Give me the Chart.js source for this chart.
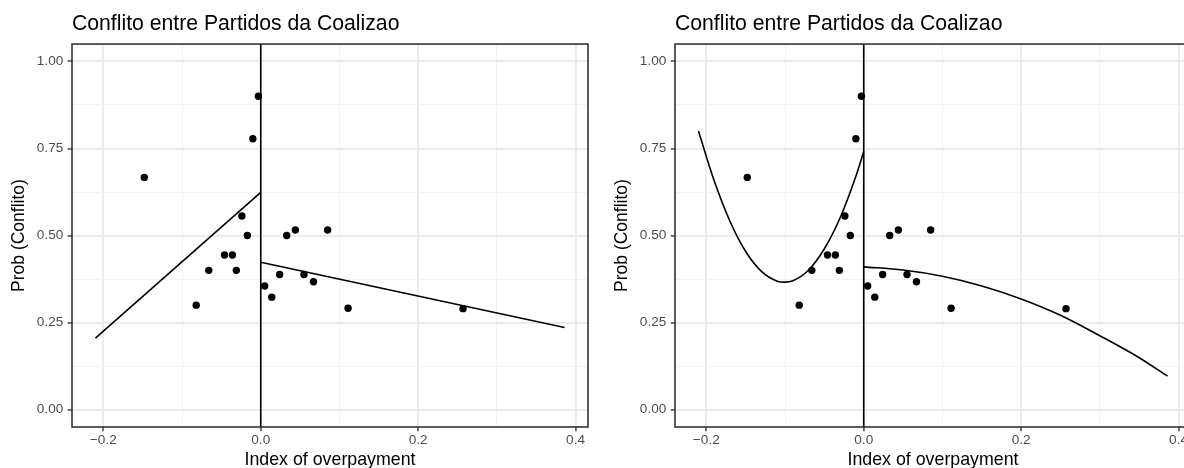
<!DOCTYPE html>
<html>
<head>
<meta charset="utf-8">
<script src="https://cdn.jsdelivr.net/npm/chart.js@4.4.1/dist/chart.umd.min.js"></script>
<style>
  html, body { margin: 0; padding: 0; background: #ffffff; overflow: hidden; width: 1184px; height: 468px; }
  .panel { position: absolute; top: 0; width: 600px; height: 468px; }
</style>
</head>
<body>
<div class="panel" style="left:0px"><canvas id="linearPanel" width="600" height="468"></canvas></div>
<div class="panel" style="left:603px"><canvas id="quadraticPanel" width="600" height="468"></canvas></div>
<script>
// Observed coalition-party conflict rates by index of overpayment
const overpayment = [-0.003, -0.010, -0.148, -0.024, -0.017, -0.046, -0.036, -0.066, -0.031, -0.082,
                      0.033,  0.044,  0.085,  0.024,  0.055,  0.067,  0.005,  0.014,  0.111,  0.257];
const probConflito = [0.900, 0.778, 0.667, 0.556, 0.500, 0.444, 0.444, 0.400, 0.400, 0.300,
                      0.500, 0.516, 0.516, 0.388, 0.388, 0.367, 0.355, 0.323, 0.291, 0.290];

// Discontinuity at zero overpayment
const cutoff = 0;

// Linear fits on each side of the cutoff
const linLeftX = [-0.210, 0.000];
const linLeftY = [0.205, 0.624];
const linRightX = [0.000, 0.386];
const linRightY = [0.423, 0.236];

// Quadratic fits on each side of the cutoff
const quadLeftX = [-0.210, -0.190, -0.170, -0.150, -0.130, -0.110, -0.100, -0.090, -0.070, -0.050, -0.030, -0.010, 0.000];
const quadLeftY = [0.800, 0.657, 0.541, 0.454, 0.397, 0.369, 0.366, 0.370, 0.401, 0.462, 0.551, 0.670, 0.741];
const quadRightX = [0.000, 0.050, 0.100, 0.150, 0.200, 0.250, 0.300, 0.350, 0.386];
const quadRightY = [0.410, 0.401, 0.383, 0.355, 0.318, 0.271, 0.212, 0.149, 0.096];

// Axis limits and breaks
const xLimits = [-0.2398, 0.4158];
const yLimits = [-0.05, 1.05];
const xMajorTicks = [-0.2, 0.0, 0.2, 0.4];
const xMinorTicks = [-0.1, 0.1, 0.3];
const yMajorTicks = [0.00, 0.25, 0.50, 0.75, 1.00];
const yMinorTicks = [0.125, 0.375, 0.625, 0.875];

const plotTitle = 'Conflito entre Partidos da Coalizao';
const xTitle = 'Index of overpayment';
const yTitle = 'Prob (Conflito)';

const FONT = '"Liberation Sans", Arial, Helvetica, sans-serif';
Chart.defaults.font.family = FONT;

const isIn = (list, v) => list.some(t => Math.abs(t - v) < 1e-9);
const pairs = (xs, ys) => xs.map((x, i) => ({ x: x, y: ys[i] }));

const fmtX = v => {
  if (Math.abs(v) < 1e-9) return '0.0';
  return (v < 0 ? '\u2212' : '') + Math.abs(v).toFixed(1);
};

// Panel frame drawn over the plotting area
const panelBorder = {
  id: 'panelBorder',
  afterDraw(chart) {
    const a = chart.chartArea;
    const ctx = chart.ctx;
    ctx.save();
    ctx.strokeStyle = '#333333';
    ctx.lineWidth = 1.6;
    ctx.strokeRect(a.left, a.top, a.right - a.left, a.bottom - a.top);
    ctx.restore();
  }
};

function gridStyle(majors) {
  return {
    drawTicks: true,
    tickLength: 4.3,
    color: c => isIn(majors, c.tick.value) ? '#EBEBEB' : '#F3F3F3',
    lineWidth: c => isIn(majors, c.tick.value) ? 1.9 : 1.0,
    tickColor: c => isIn(majors, c.tick.value) ? '#333333' : 'rgba(0,0,0,0)',
    tickWidth: 1.4
  };
}

function lineSet(data, smooth) {
  return {
    type: 'scatter',
    data: data,
    showLine: true,
    borderColor: '#000000',
    borderWidth: 1.6,
    pointRadius: 0,
    pointHoverRadius: 0,
    cubicInterpolationMode: smooth ? 'monotone' : 'default',
    fill: false
  };
}

function makePanel(canvasId, fits, smooth) {
  const datasets = [
    {
      type: 'scatter',
      data: pairs(overpayment, probConflito),
      backgroundColor: '#000000',
      borderWidth: 0,
      pointRadius: 3.7,
      pointHoverRadius: 3.7
    },
    lineSet([{ x: cutoff, y: yLimits[0] }, { x: cutoff, y: yLimits[1] }], false)
  ];
  fits.forEach(f => datasets.push(lineSet(f, smooth)));

  new Chart(document.getElementById(canvasId), {
    type: 'scatter',
    data: { datasets: datasets },
    plugins: [panelBorder],
    options: {
      responsive: false,
      animation: false,
      devicePixelRatio: 1,
      layout: { padding: { left: 0, right: 12, top: 0, bottom: 0 } },
      plugins: {
        legend: { display: false },
        tooltip: { enabled: false },
        title: {
          display: true,
          text: plotTitle,
          align: 'start',
          fullSize: false,
          color: '#000000',
          font: { family: FONT, size: 21.2, weight: 'normal', lineHeight: 1.2 },
          padding: { top: 11, bottom: 7.6 }
        }
      },
      scales: {
        x: {
          type: 'linear',
          min: xLimits[0],
          max: xLimits[1],
          afterBuildTicks: s => { s.ticks = xMajorTicks.concat(xMinorTicks).sort((a, b) => a - b).map(v => ({ value: v })); },
          afterFit: s => { s.height = 41; },
          ticks: {
            autoSkip: false,
            maxRotation: 0,
            padding: 1,
            color: '#4D4D4D',
            font: { family: FONT, size: 13.6, lineHeight: 1.2 },
            callback: v => isIn(xMajorTicks, v) ? fmtX(v) : ''
          },
          grid: gridStyle(xMajorTicks),
          border: { display: false },
          title: {
            display: true,
            text: xTitle,
            color: '#000000',
            font: { family: FONT, size: 17.8, lineHeight: 1.2 },
            padding: { top: 0, bottom: -3 }
          }
        },
        y: {
          type: 'linear',
          min: yLimits[0],
          max: yLimits[1],
          afterBuildTicks: s => { s.ticks = yMajorTicks.concat(yMinorTicks).sort((a, b) => a - b).map(v => ({ value: v })); },
          afterFit: s => { s.width = 72; },
          ticks: {
            autoSkip: false,
            padding: 4.4,
            color: '#4D4D4D',
            font: { family: FONT, size: 13.6, lineHeight: 1.2 },
            callback: v => isIn(yMajorTicks, v) ? v.toFixed(2) : ''
          },
          grid: gridStyle(yMajorTicks),
          border: { display: false },
          title: {
            display: true,
            text: yTitle,
            color: '#000000',
            font: { family: FONT, size: 17.5, lineHeight: 1.2 },
            padding: { top: 8.5, bottom: 0 }
          }
        }
      }
    }
  });
}

makePanel('linearPanel', [pairs(linLeftX, linLeftY), pairs(linRightX, linRightY)], false);
makePanel('quadraticPanel', [pairs(quadLeftX, quadLeftY), pairs(quadRightX, quadRightY)], true);
</script>
</body>
</html>
